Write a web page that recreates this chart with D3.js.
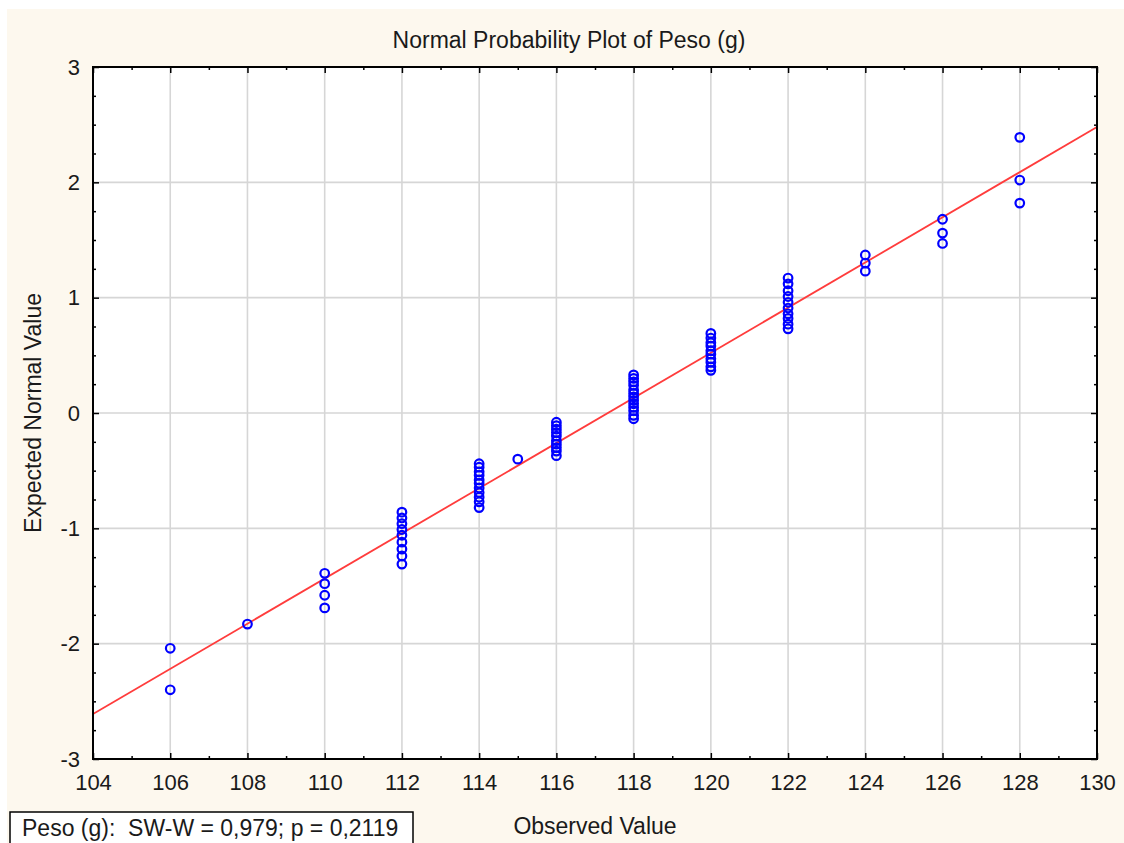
<!DOCTYPE html>
<html>
<head>
<meta charset="utf-8">
<script src="https://cdn.jsdelivr.net/npm/d3@7"></script>
<style>
  body { margin: 0; background: #fff; }
  text { font-family: "Liberation Sans", Arial, sans-serif; fill: #1a1a1a; }
  .axis path { display: none; }
  .axis line { stroke: #000; stroke-width: 1.5; }
  .axis text { font-size: 22px; fill: #1a1a1a; font-family: "Liberation Sans", Arial, sans-serif; }
</style>
</head>
<body>
<svg id="chart"></svg>
<script>
// Observed values (g) and the expected normal values stacked at each one
const observed = [106, 108, 110, 112, 114, 115, 116, 118, 120, 122, 124, 126, 128];
const expected = [
    [-2.40, -2.04],
    [-1.83],
    [-1.69, -1.58, -1.48, -1.39],
    [-1.31, -1.24, -1.18, -1.12, -1.06, -1.01, -0.96, -0.91, -0.86],
    [-0.82, -0.77, -0.73, -0.69, -0.65, -0.61, -0.58, -0.54, -0.51, -0.47, -0.44],
    [-0.40],
    [-0.37, -0.33, -0.30, -0.27, -0.24, -0.20, -0.17, -0.14, -0.11, -0.08],
    [-0.05, -0.02, 0.02, 0.05, 0.08, 0.11, 0.14, 0.17, 0.20, 0.24, 0.27, 0.30, 0.33],
    [0.37, 0.40, 0.44, 0.47, 0.51, 0.54, 0.58, 0.61, 0.65, 0.69],
    [0.73, 0.77, 0.82, 0.86, 0.91, 0.96, 1.01, 1.06, 1.12, 1.17],
    [1.23, 1.30, 1.37],
    [1.47, 1.56, 1.68],
    [1.82, 2.02, 2.39]
];

// Fitted reference line end points
const lineX = [104, 130];
const lineY = [-2.61, 2.48];

const xTicks = [104, 106, 108, 110, 112, 114, 116, 118, 120, 122, 124, 126, 128, 130];
const yTicks = [-3, -2, -1, 0, 1, 2, 3];

const W = 1124, H = 843;
const margin = { left: 93, top: 67, right: 1097, bottom: 759 };

const svg = d3.select("#chart").attr("width", W).attr("height", H);

// cream background panel
svg.append("rect")
    .attr("x", 7).attr("y", 9)
    .attr("width", W - 7).attr("height", H - 9)
    .attr("fill", "#fdf8ee");

const x = d3.scaleLinear().domain([104, 130]).range([margin.left, margin.right]);
const y = d3.scaleLinear().domain([-3, 3]).range([margin.bottom, margin.top]);

// plot area
svg.append("rect")
    .attr("x", margin.left).attr("y", margin.top)
    .attr("width", margin.right - margin.left)
    .attr("height", margin.bottom - margin.top)
    .attr("fill", "#fff");

// grid lines
svg.append("g").selectAll("line")
    .data(xTicks.slice(1, -1))
    .enter().append("line")
    .attr("x1", d => x(d)).attr("x2", d => x(d))
    .attr("y1", margin.top).attr("y2", margin.bottom)
    .attr("stroke", "#d6d6d6").attr("stroke-width", 1.6);

svg.append("g").selectAll("line")
    .data(yTicks.slice(1, -1))
    .enter().append("line")
    .attr("x1", margin.left).attr("x2", margin.right)
    .attr("y1", d => y(d)).attr("y2", d => y(d))
    .attr("stroke", "#d6d6d6").attr("stroke-width", 1.6);

// minor tick values
const xMinor = d3.range(105, 130, 2);
const yMinor = d3.range(-3, 3.001, 0.25).filter(v => Math.abs(v - Math.round(v)) > 1e-6);
const plain = d => String(d);

// axes with inward ticks
svg.append("g").attr("class", "axis")
    .attr("transform", `translate(0,${margin.bottom})`)
    .call(d3.axisBottom(x).tickValues(xTicks).tickSize(-6).tickPadding(15).tickFormat(plain));
svg.append("g").attr("class", "axis")
    .attr("transform", `translate(0,${margin.bottom})`)
    .call(d3.axisBottom(x).tickValues(xMinor).tickSize(-3).tickFormat(""));
svg.append("g").attr("class", "axis")
    .attr("transform", `translate(0,${margin.top})`)
    .call(d3.axisTop(x).tickValues(xTicks).tickSize(-6).tickFormat(""));
svg.append("g").attr("class", "axis")
    .attr("transform", `translate(0,${margin.top})`)
    .call(d3.axisTop(x).tickValues(xMinor).tickSize(-3).tickFormat(""));

svg.append("g").attr("class", "axis")
    .attr("transform", `translate(${margin.left},0)`)
    .call(d3.axisLeft(y).tickValues(yTicks).tickSize(-6).tickPadding(13).tickFormat(plain));
svg.append("g").attr("class", "axis")
    .attr("transform", `translate(${margin.left},0)`)
    .call(d3.axisLeft(y).tickValues(yMinor).tickSize(-3).tickFormat(""));
svg.append("g").attr("class", "axis")
    .attr("transform", `translate(${margin.right},0)`)
    .call(d3.axisRight(y).tickValues(yTicks).tickSize(-6).tickFormat(""));
svg.append("g").attr("class", "axis")
    .attr("transform", `translate(${margin.right},0)`)
    .call(d3.axisRight(y).tickValues(yMinor).tickSize(-3).tickFormat(""));

// fitted line
svg.append("defs").append("clipPath").attr("id", "clip")
    .append("rect")
    .attr("x", margin.left).attr("y", margin.top)
    .attr("width", margin.right - margin.left)
    .attr("height", margin.bottom - margin.top);

svg.append("path")
    .datum(lineX.map((v, i) => [v, lineY[i]]))
    .attr("clip-path", "url(#clip)")
    .attr("d", d3.line().x(d => x(d[0])).y(d => y(d[1])))
    .attr("stroke", "#ff3c3c").attr("stroke-width", 1.8).attr("fill", "none");

// points
const points = [];
observed.forEach((v, i) => expected[i].forEach(e => points.push({ v: v, e: e })));

svg.append("g").selectAll("circle")
    .data(points)
    .enter().append("circle")
    .attr("cx", d => x(d.v))
    .attr("cy", d => y(d.e))
    .attr("r", 4.3)
    .attr("fill", "none")
    .attr("stroke", "#0000ff")
    .attr("stroke-width", 2.2);

// frame
svg.append("rect")
    .attr("x", margin.left).attr("y", margin.top)
    .attr("width", margin.right - margin.left)
    .attr("height", margin.bottom - margin.top)
    .attr("fill", "none").attr("stroke", "#000").attr("stroke-width", 2);

// titles
svg.append("text")
    .attr("x", 569).attr("y", 48)
    .attr("text-anchor", "middle")
    .style("font-size", "23px")
    .text("Normal Probability Plot of Peso (g)");

svg.append("text")
    .attr("x", 595).attr("y", 834)
    .attr("text-anchor", "middle")
    .style("font-size", "23px")
    .text("Observed Value");

svg.append("text")
    .attr("transform", `translate(41,413) rotate(-90)`)
    .attr("text-anchor", "middle")
    .style("font-size", "23px")
    .text("Expected Normal Value");

// stats box
svg.append("rect")
    .attr("x", 10).attr("y", 812)
    .attr("width", 403).attr("height", 40)
    .attr("fill", "#fff").attr("stroke", "#000").attr("stroke-width", 1.5);

svg.append("text")
    .attr("x", 22).attr("y", 836)
    .attr("xml:space", "preserve")
    .style("font-size", "23px")
    .style("white-space", "pre")
    .text("Peso (g):  SW-W = 0,979; p = 0,2119");
</script>
</body>
</html>
